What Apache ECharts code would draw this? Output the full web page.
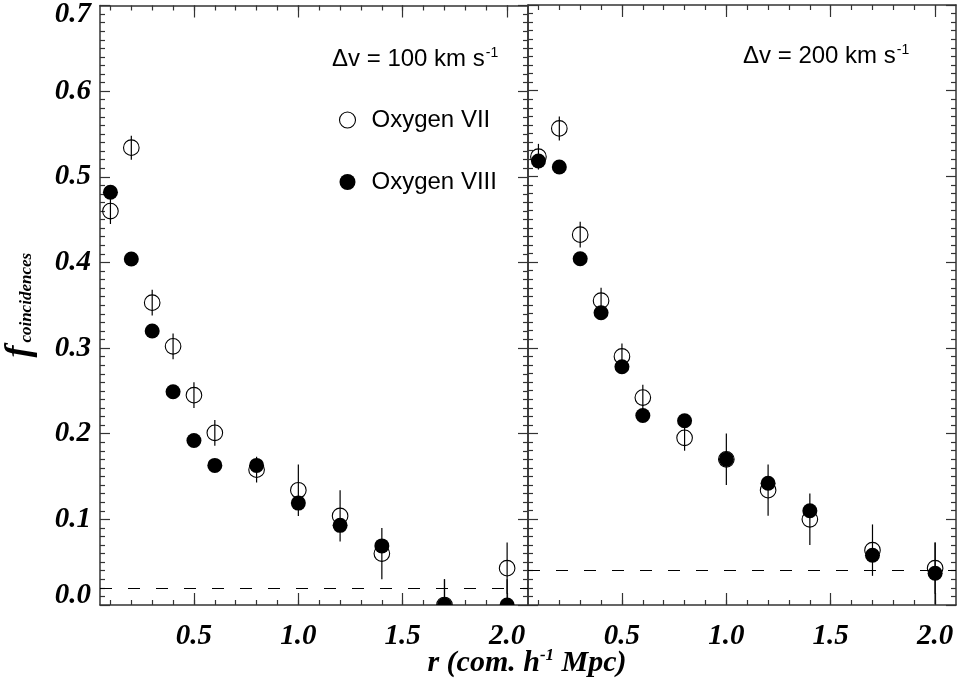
<!DOCTYPE html>
<html>
<head>
<meta charset="utf-8">
<script src="https://cdn.jsdelivr.net/npm/echarts@6/dist/echarts.min.js"></script>
<style>
  html, body { margin: 0; padding: 0; background: #fff; }
  #main { width: 958px; height: 681px; }
</style>
</head>
<body>
<div id="main"></div>
<script>
// separation r (com. h^-1 Mpc), same bins in both panels
const rBins = [0.1, 0.2, 0.3, 0.4, 0.5, 0.6, 0.8, 1.0, 1.2, 1.4, 1.7, 2.0]

// dv = 100 km/s
const o7_100 = [0.460, 0.534, 0.353, 0.302, 0.245, 0.201, 0.158, 0.134, 0.104, 0.060, 0.000, 0.043]
const o7_100Err = [0.015, 0.014, 0.015, 0.015, 0.015, 0.015, 0.015, 0.030, 0.030, 0.030, 0.030, 0.030]
const o8_100 = [0.482, 0.404, 0.320, 0.249, 0.192, 0.163, 0.163, 0.119, 0.093, 0.069, 0.000, 0.000]
const o8_100Err = [0, 0, 0, 0, 0, 0, 0, 0, 0, 0, 0.030, 0.030]

// dv = 200 km/s
const o7_200 = [0.523, 0.556, 0.432, 0.355, 0.290, 0.242, 0.195, 0.170, 0.134, 0.100, 0.064, 0.043]
const o7_200Err = [0.015, 0.014, 0.015, 0.015, 0.015, 0.015, 0.015, 0.030, 0.030, 0.030, 0.030, 0.030]
const o8_200 = [0.518, 0.511, 0.404, 0.341, 0.278, 0.221, 0.215, 0.170, 0.142, 0.110, 0.058, 0.037]
const o8_200Err = [0, 0, 0, 0, 0, 0, 0, 0, 0, 0, 0, 0.036]

// dashed random-coincidence levels
const baseline = [0.02, 0.04]

const xMajorTicks = [0.5, 1.0, 1.5, 2.0]
const xMinorTicks = [0.1, 0.2, 0.3, 0.4, 0.5, 0.6, 0.7, 0.8, 0.9, 1.0, 1.1, 1.2, 1.3, 1.4, 1.5, 1.6, 1.7, 1.8, 1.9, 2.0]

const SERIF = '"Liberation Serif", "Times New Roman", serif'
const SANS = '"Liberation Sans", Arial, sans-serif'
const AXIS_COLOR = '#333'
const TICK_FONT = { fontFamily: SERIF, fontStyle: 'italic', fontWeight: 'bold', fontSize: 29, color: '#000' }

const rows = (ys, errs) => rBins.map((r, i) => [r, ys[i], errs[i]])

const renderPoint = filled => (params, api) => {
  const x = api.value(0)
  const y = api.value(1)
  const e = api.value(2)
  const c = api.coord([x, y])
  const children = []
  if (e > 0) {
    const lo = api.coord([x, y - e])
    const hi = api.coord([x, y + e])
    children.push({
      type: 'line',
      shape: { x1: c[0], y1: lo[1], x2: c[0], y2: hi[1] },
      style: { stroke: '#000', lineWidth: 1.2 }
    })
  }
  children.push({
    type: 'circle',
    shape: { cx: c[0], cy: c[1], r: filled ? 7.5 : 7.8 },
    style: filled ? { fill: '#000' } : { fill: 'none', stroke: '#000', lineWidth: 1.1 }
  })
  return { type: 'group', children: children }
}

const xAxisPair = (grid, pos, labels) => [
  {
    gridIndex: grid, type: 'value', position: pos, min: 0.05, max: 2.1,
    axisLine: { show: true, onZero: false, lineStyle: { color: AXIS_COLOR, width: 1.5 } },
    axisTick: { show: true, inside: true, length: 12, customValues: xMajorTicks,
      lineStyle: { color: AXIS_COLOR, width: 1.2 } },
    axisLabel: labels ? Object.assign({
      show: true, customValues: xMajorTicks, margin: 17,
      formatter: v => v.toFixed(1)
    }, TICK_FONT) : { show: false },
    splitLine: { show: false }
  },
  {
    gridIndex: grid, type: 'value', position: pos, min: 0.05, max: 2.1,
    axisLine: { show: false, onZero: false },
    axisTick: { show: true, inside: true, length: 5, customValues: xMinorTicks,
      lineStyle: { color: AXIS_COLOR, width: 1.2 } },
    axisLabel: { show: false },
    splitLine: { show: false }
  }
]

// end labels are pulled inside the frame, as in the original plot
const yLabel = v => {
  const s = v.toFixed(1)
  if (v >= 0.7 - 1e-9) return '{hi|' + s + '}'
  if (v <= 1e-9) return '{lo|' + s + '}'
  return s
}

const yAxisOne = (grid, pos, labels) => ({
  gridIndex: grid, type: 'value', position: pos, min: 0, max: 0.7, interval: 0.1,
  axisLine: { show: true, lineStyle: { color: AXIS_COLOR, width: 1.5 } },
  axisTick: { show: true, inside: true, length: 10, lineStyle: { color: AXIS_COLOR, width: 1.2 } },
  minorTick: { show: true, splitNumber: 10, length: 5, lineStyle: { color: AXIS_COLOR, width: 1.2 } },
  axisLabel: labels ? Object.assign({
    show: true, margin: 9,
    formatter: yLabel,
    rich: {
      hi: Object.assign({ padding: [18, 0, 0, 0] }, TICK_FONT),
      lo: Object.assign({ padding: [0, 0, 18, 0] }, TICK_FONT)
    }
  }, TICK_FONT) : { show: false },
  splitLine: { show: false },
  minorSplitLine: { show: false },
  name: labels ? '{f|f}{s|coincidences}' : '',
  nameLocation: 'middle',
  nameRotate: 90,
  nameGap: 62,
  nameTextStyle: {
    fontFamily: SERIF, fontStyle: 'italic', fontWeight: 'bold', color: '#000',
    rich: {
      f: { fontFamily: SERIF, fontStyle: 'italic', fontWeight: 'bold', fontSize: 36, color: '#000' },
      s: { fontFamily: SERIF, fontStyle: 'italic', fontWeight: 'bold', fontSize: 17, color: '#000', padding: [14, 0, 0, 3] }
    }
  }
})

const pointSeries = (name, grid, data, filled) => ({
  name: name,
  type: 'custom',
  xAxisIndex: grid * 4,
  yAxisIndex: grid * 2,
  clip: true,
  itemStyle: { color: '#000' },
  renderItem: renderPoint(filled),
  data: data,
  z: filled ? 3 : 2
})

const dashSeries = (grid, level) => ({
  type: 'line',
  xAxisIndex: grid * 4,
  yAxisIndex: grid * 2,
  data: [],
  silent: true,
  markLine: {
    silent: true,
    symbol: 'none',
    label: { show: false },
    lineStyle: { color: '#000', type: [12, 16], width: 1.1 },
    data: [{ yAxis: level }]
  }
})

const dvText = (left, top, label) => ({
  type: 'text', left: left, top: top,
  style: {
    text: '{a|' + label + '}{b|-1}',
    rich: {
      a: { fontFamily: SANS, fontSize: 24, color: '#000' },
      b: { fontFamily: SANS, fontSize: 14, color: '#000', padding: [0, 0, 12, 1] }
    }
  }
})

const $main = document.getElementById('main')
const chart = echarts.init($main, null, { renderer: 'canvas' })

const option = {
  animation: false,
  backgroundColor: '#fff',
  grid: [
    { left: 100, right: 430, top: 5, bottom: 76 },
    { left: 528, right: 2, top: 5, bottom: 76 }
  ],
  xAxis: [
    ...xAxisPair(0, 'bottom', true),
    ...xAxisPair(0, 'top', false),
    ...xAxisPair(1, 'bottom', true),
    ...xAxisPair(1, 'top', false)
  ],
  yAxis: [
    yAxisOne(0, 'left', true),
    yAxisOne(0, 'right', false),
    yAxisOne(1, 'left', false),
    yAxisOne(1, 'right', false)
  ],
  legend: {
    left: 332,
    top: 103,
    orient: 'vertical',
    itemGap: 38,
    itemWidth: 16,
    itemHeight: 16,
    selectedMode: false,
    textStyle: { fontFamily: SANS, fontSize: 24, color: '#000', padding: [0, 0, 0, 11] },
    data: [
      { name: 'Oxygen VII', icon: 'circle', itemStyle: { color: 'none', borderColor: '#000', borderWidth: 1.1 } },
      { name: 'Oxygen VIII', icon: 'circle', itemStyle: { color: '#000' } }
    ]
  },
  graphic: [
    dvText(332, 46, 'Δv = 100 km s'),
    dvText(743, 43, 'Δv = 200 km s'),
    {
      type: 'text', x: 527, y: 663,
      style: {
        text: '{a|r (com. h}{b|-1}{a| Mpc)}',
        align: 'center',
        verticalAlign: 'middle',
        rich: {
          a: { fontFamily: SERIF, fontStyle: 'italic', fontWeight: 'bold', fontSize: 30, color: '#000' },
          b: { fontFamily: SERIF, fontStyle: 'italic', fontWeight: 'bold', fontSize: 17, color: '#000', padding: [0, 0, 14, 0] }
        }
      }
    }
  ],
  series: [
    pointSeries('Oxygen VII', 0, rows(o7_100, o7_100Err), false),
    pointSeries('Oxygen VIII', 0, rows(o8_100, o8_100Err), true),
    pointSeries('Oxygen VII', 1, rows(o7_200, o7_200Err), false),
    pointSeries('Oxygen VIII', 1, rows(o8_200, o8_200Err), true),
    dashSeries(0, baseline[0]),
    dashSeries(1, baseline[1])
  ]
}
chart.setOption(option)
</script>
</body>
</html>
